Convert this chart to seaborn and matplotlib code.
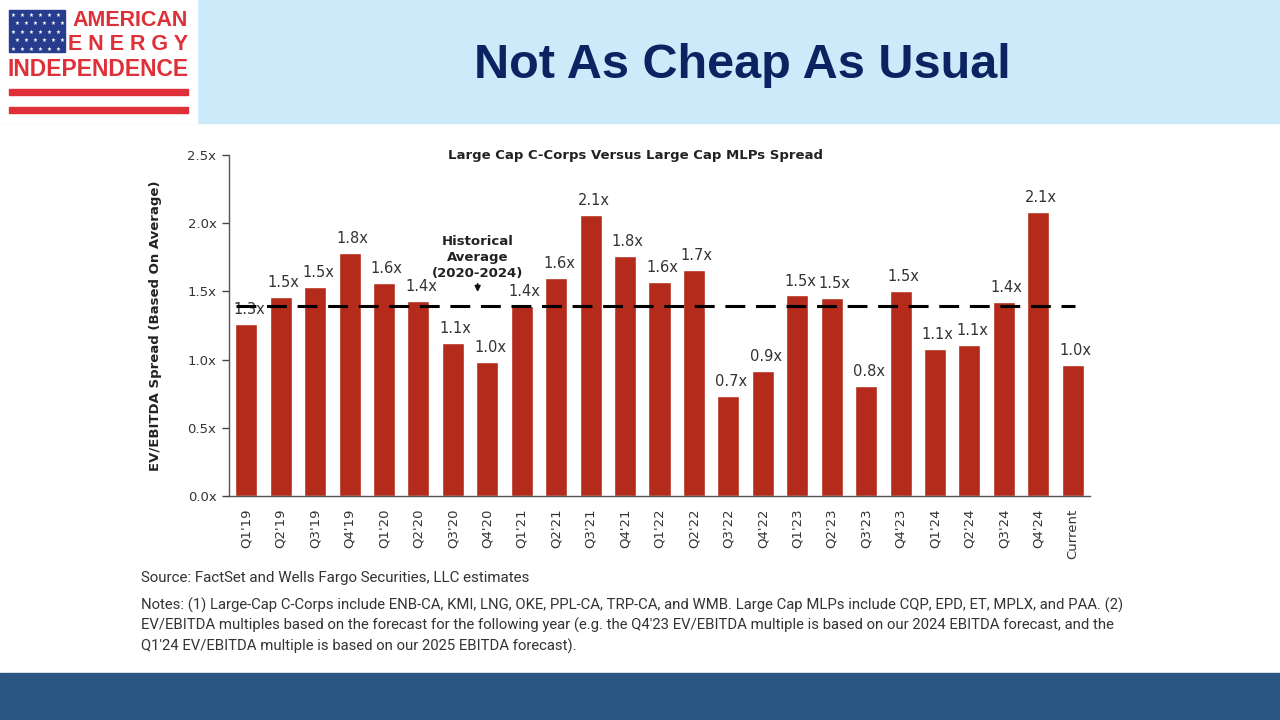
import numpy as np
import pandas as pd
import matplotlib
matplotlib.use("Agg")
import matplotlib.pyplot as plt
from matplotlib.patches import Rectangle
import seaborn as sns

quarters = ["Q1'19", "Q2'19", "Q3'19", "Q4'19", "Q1'20", "Q2'20", "Q3'20", "Q4'20",
            "Q1'21", "Q2'21", "Q3'21", "Q4'21", "Q1'22", "Q2'22", "Q3'22", "Q4'22",
            "Q1'23", "Q2'23", "Q3'23", "Q4'23", "Q1'24", "Q2'24", "Q3'24", "Q4'24", "Current"]
spread = [1.26, 1.46, 1.53, 1.78, 1.56, 1.43, 1.12, 0.98, 1.39, 1.60, 2.06, 1.76, 1.57,
          1.66, 0.73, 0.92, 1.47, 1.45, 0.81, 1.50, 1.08, 1.11, 1.42, 2.08, 0.96]
bar_labels = ["1.3x", "1.5x", "1.5x", "1.8x", "1.6x", "1.4x", "1.1x", "1.0x", "1.4x",
              "1.6x", "2.1x", "1.8x", "1.6x", "1.7x", "0.7x", "0.9x", "1.5x", "1.5x",
              "0.8x", "1.5x", "1.1x", "1.1x", "1.4x", "2.1x", "1.0x"]
hist_avg = 1.39
y_ticks = [0.0, 0.5, 1.0, 1.5, 2.0, 2.5]

BAR = "#B42A1B"
NAVY = "#0B2461"
W, H = 1280, 720

sns.set_theme(style="white")
plt.rcParams["font.family"] = ["DejaVu Sans"]

fig = plt.figure(figsize=(12.8, 7.2), dpi=100)

# header band + logo box
fig.patches.append(Rectangle((0, 1 - 123 / H), 1, 123 / H, transform=fig.transFigure,
                             color="#CDEAFB", zorder=0))
fig.patches.append(Rectangle((0, 1 - 123 / H), 197 / W, 123 / H, transform=fig.transFigure,
                             color="white", zorder=1))
# footer band
fig.patches.append(Rectangle((0, 0), 1, 47 / H, transform=fig.transFigure,
                             color="#2A5683", zorder=0))

# logo
logo_red = "#DF2F38"
fig.patches.append(Rectangle((9 / W, 1 - 52 / H), 56 / W, 42 / H, transform=fig.transFigure,
                             color="#283C8E", zorder=2))
for r in range(5):
    for c in range(6):
        off = 0 if r % 2 == 0 else 4
        sx = 13 + c * 9 + off
        if sx > 62:
            continue
        fig.text(sx / W, 1 - (15 + r * 8.5) / H, "★", color="white", fontsize=4,
                 ha="center", va="center", zorder=3)
for yy in (89, 107):
    fig.patches.append(Rectangle((9 / W, 1 - (yy + 6) / H), 179 / W, 6 / H,
                                 transform=fig.transFigure, color=logo_red, zorder=2))
fig.text(188 / W, 1 - 20 / H, "AMERICAN", color=logo_red, fontsize=15.5, fontweight="bold",
         family="Liberation Sans", ha="right", va="center")
fig.text(188 / W, 1 - 45 / H, "E N E R G Y", color=logo_red, fontsize=15.5, fontweight="bold",
         family="Liberation Sans", ha="right", va="center")
fig.text(98.5 / W, 1 - 70 / H, "INDEPENDENCE", color=logo_red, fontsize=16.5, fontweight="bold",
         family="Liberation Sans", ha="center", va="center")

fig.text(742 / W, 1 - 65 / H, "Not As Cheap As Usual", color=NAVY, fontsize=35,
         fontweight="bold", family="Liberation Sans", ha="center", va="center")

# chart
ax = fig.add_axes([229 / W, 1 - 496 / H, (1090 - 229) / W, (496 - 155) / H])
df = pd.DataFrame({"quarter": quarters, "spread": spread})
sns.barplot(data=df, x="quarter", y="spread", color=BAR, saturation=1, width=0.64, ax=ax)
ax.set_xlim(-0.5, len(quarters) - 0.5)
ax.set_ylim(0, 2.5)

ax.plot([-0.3, 24.05], [hist_avg, hist_avg], color="black", lw=2.2,
        linestyle=(0, (6.5, 3.5)), zorder=5)

for i, (v, lab) in enumerate(zip(spread, bar_labels)):
    ax.annotate(lab, (i, v), xytext=(2, 5), textcoords="offset points", ha="center",
                va="bottom", fontsize=10.5, color="#333333")

ax.text(6.72, 1.745, "Historical\nAverage\n(2020-2024)", ha="center", va="center",
        fontsize=9.5, fontweight="bold", color="#222222", linespacing=1.3)
ax.annotate("", xy=(6.72, 1.475), xytext=(6.72, 1.575),
            arrowprops=dict(arrowstyle="-|>", color="#111111", lw=1.3, mutation_scale=8))

ax.set_yticks(y_ticks)
ax.set_yticklabels([f"{t:.1f}x" for t in y_ticks], fontsize=9.5, color="#333333")
ax.set_xticks(range(len(quarters)))
ax.set_xticklabels(quarters, rotation=90, fontsize=9.5, color="#333333")
ax.set_xticks(np.arange(-0.5, len(quarters)), minor=True)
ax.tick_params(axis="x", which="major", length=0, pad=9)
ax.tick_params(axis="x", which="minor", length=5, width=1, color="#444444", direction="out")
ax.tick_params(axis="y", length=5, width=1, color="#444444", direction="out", pad=4, left=True)
ax.set_xlabel("")
ax.set_ylabel("")
sns.despine(ax=ax)
for s in ("left", "bottom"):
    ax.spines[s].set_color("#555555")
    ax.spines[s].set_linewidth(1)

fig.text(155 / W, 1 - 326 / H, "EV/EBITDA Spread (Based On Average)", rotation=90,
         fontsize=9.5, fontweight="bold", color="#222222", ha="center", va="center")
fig.text(635 / W, 1 - 155 / H, "Large Cap C-Corps Versus Large Cap MLPs Spread",
         fontsize=9.5, fontweight="bold", color="#222222", ha="center", va="center")

note_font = ["Roboto", "DejaVu Sans"]
fig.text(141 / W, 1 - 578 / H, "Source: FactSet and Wells Fargo Securities, LLC estimates",
         fontsize=10.9, color="#333333", family=note_font, va="center")
notes = [
    "Notes: (1) Large-Cap C-Corps include ENB-CA, KMI, LNG, OKE, PPL-CA, TRP-CA, and WMB. "
    "Large Cap MLPs include CQP, EPD, ET, MPLX, and PAA. (2)",
    "EV/EBITDA multiples based on the forecast for the following year (e.g. the Q4'23 EV/EBITDA "
    "multiple is based on our 2024 EBITDA forecast, and the",
    "Q1'24 EV/EBITDA multiple is based on our 2025 EBITDA forecast).",
]
for k, line in enumerate(notes):
    fig.text(141 / W, 1 - (605 + 20.5 * k) / H, line, fontsize=10.7, color="#333333",
             family=note_font, va="center")

fig.savefig("out.png", dpi=100)
